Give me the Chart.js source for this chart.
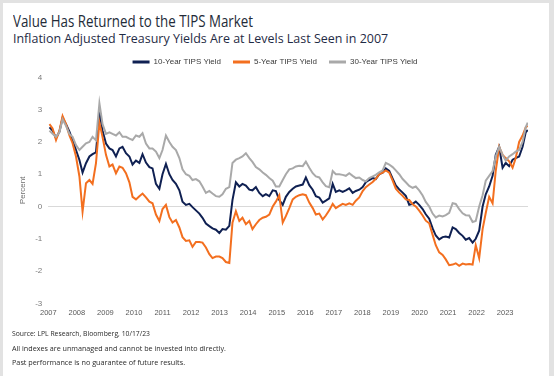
<!DOCTYPE html>
<html>
<head>
<meta charset="utf-8">
<script src="https://cdn.jsdelivr.net/npm/chart.js@4.4.0/dist/chart.umd.min.js"></script>
<style>
  html, body { margin: 0; padding: 0; }
  body { width: 554px; height: 376px; background: #e2e2e2; position: relative; overflow: hidden; font-family: "Open Sans", sans-serif; }
  .panel { position: absolute; left: 3px; top: 3px; width: 546px; height: 373px; background: #fff; }
  .txt { position: absolute; white-space: nowrap; transform-origin: 0 0; line-height: 1; }
  #title { left: 13px; top: 12.5px; font-size: 16px; color: #232b38; }
  #subtitle { left: 13px; top: 33px; font-size: 12.5px; color: #1f2b45; }
  .foot { left: 12px; font-size: 8px; color: #2a2a2a; }
  #foot1 { top: 328.5px; }
  #foot2 { top: 343.5px; }
  #foot3 { top: 357.5px; }
  #chartWrap { position: absolute; left: 0; top: 46px; width: 554px; height: 284px; }
</style>
</head>
<body>
<div class="panel"></div>
<div class="txt" id="title">Value Has Returned to the TIPS Market</div>
<div class="txt" id="subtitle">Inflation Adjusted Treasury Yields Are at Levels Last Seen in 2007</div>
<div id="chartWrap"><canvas id="tipsChart"></canvas></div>
<div class="txt foot" id="foot1">Source: LPL Research, Bloomberg, 10/17/23</div>
<div class="txt foot" id="foot2">All indexes are unmanaged and cannot be invested into directly.</div>
<div class="txt foot" id="foot3">Past performance is no guarantee of future results.</div>
<script>
// ── 数据（从图上读取，日期为小数年份）──
var dates = [
  2007.04, 2007.15, 2007.27, 2007.39, 2007.50, 2007.62, 2007.74, 2007.85, 2007.97, 2008.09,
  2008.20, 2008.32, 2008.44, 2008.55, 2008.67, 2008.79, 2008.90, 2009.02, 2009.14, 2009.25,
  2009.37, 2009.49, 2009.60, 2009.72, 2009.84, 2009.95, 2010.07, 2010.19, 2010.30, 2010.42,
  2010.54, 2010.65, 2010.77, 2010.89, 2011.00, 2011.12, 2011.24, 2011.35, 2011.47, 2011.59,
  2011.70, 2011.82, 2011.94, 2012.05, 2012.17, 2012.29, 2012.40, 2012.52, 2012.64, 2012.75,
  2012.87, 2012.99, 2013.10, 2013.22, 2013.34, 2013.45, 2013.57, 2013.69, 2013.80, 2013.92,
  2014.04, 2014.15, 2014.27, 2014.39, 2014.51, 2014.62, 2014.74, 2014.86, 2014.97, 2015.09,
  2015.21, 2015.32, 2015.44, 2015.56, 2015.67, 2015.79, 2015.91, 2016.02, 2016.14, 2016.26,
  2016.37, 2016.49, 2016.61, 2016.72, 2016.84, 2016.96, 2017.07, 2017.19, 2017.31, 2017.42,
  2017.54, 2017.66, 2017.77, 2017.89, 2018.01, 2018.12, 2018.24, 2018.36, 2018.47, 2018.59,
  2018.71, 2018.82, 2018.94, 2019.06, 2019.17, 2019.29, 2019.41, 2019.52, 2019.64, 2019.76,
  2019.87, 2019.99, 2020.11, 2020.22, 2020.34, 2020.46, 2020.57, 2020.69, 2020.81, 2020.92,
  2021.04, 2021.16, 2021.27, 2021.39, 2021.51, 2021.62, 2021.74, 2021.86, 2021.97, 2022.09,
  2022.21, 2022.32, 2022.44, 2022.56, 2022.67, 2022.79, 2022.91, 2023.02, 2023.14, 2023.26,
  2023.37, 2023.49, 2023.61, 2023.72, 2023.79
];

var yield10 = [
  2.45, 2.35, 2.12, 2.32, 2.75, 2.55, 2.32, 2.06, 1.75, 1.44,
  1.05, 1.34, 1.55, 1.62, 1.68, 2.90, 2.35, 1.95, 1.80, 1.75,
  1.55, 1.80, 1.85, 1.65, 1.55, 1.30, 1.42, 1.35, 1.62, 1.36,
  1.22, 1.18, 0.70, 0.55, 1.00, 1.32, 1.00, 0.82, 0.70, 0.50,
  0.15, 0.05, 0.08, -0.02, -0.12, -0.22, -0.35, -0.53, -0.61, -0.68,
  -0.72, -0.82, -0.70, -0.72, -0.60, 0.20, 0.75, 0.62, 0.70, 0.65,
  0.52, 0.50, 0.60, 0.42, 0.32, 0.38, 0.32, 0.50, 0.48, 0.20,
  0.05, 0.30, 0.45, 0.55, 0.62, 0.65, 0.68, 0.90, 0.66, 0.52,
  0.32, 0.28, 0.12, 0.18, 0.25, 0.70, 0.45, 0.50, 0.45, 0.50,
  0.56, 0.42, 0.48, 0.52, 0.60, 0.75, 0.82, 0.88, 0.85, 1.00,
  1.05, 1.18, 1.10, 0.86, 0.65, 0.53, 0.43, 0.33, 0.05, 0.08,
  0.15, 0.05, -0.08, -0.24, -0.38, -0.68, -0.90, -1.02, -0.95, -0.93,
  -0.96, -0.65, -0.70, -0.82, -0.91, -1.03, -0.98, -1.12, -1.00, -0.75,
  0.00, 0.38, 0.62, 0.95, 1.60, 1.85, 1.20, 1.35, 1.25, 1.45,
  1.50, 1.55, 1.85, 2.30, 2.37
];

var yield5 = [
  2.55, 2.42, 2.06, 2.35, 2.80, 2.55, 2.20, 1.96, 1.55, 0.93,
  -0.16, 0.72, 0.82, 0.70, 1.34, 2.60, 2.15, 1.60, 1.24, 1.30,
  1.03, 1.24, 1.20, 1.03, 0.75, 0.30, 0.22, 0.32, 0.40, 0.28,
  0.15, 0.10, -0.25, -0.45, -0.08, 0.05, -0.33, -0.50, -0.42, -0.65,
  -0.95, -1.07, -1.05, -1.25, -1.10, -1.10, -1.12, -1.27, -1.48, -1.60,
  -1.55, -1.55, -1.60, -1.72, -1.75, -0.50, -0.15, -0.45, -0.35, -0.55,
  -0.45, -0.70, -0.55, -0.42, -0.35, -0.32, -0.25, 0.00, 0.15, 0.35,
  -0.50, -0.30, -0.05, 0.22, 0.30, 0.35, 0.38, 0.35, 0.12, -0.05,
  -0.25, -0.22, -0.40, -0.28, -0.12, 0.08, -0.05, 0.02, 0.08, 0.05,
  0.10, 0.05, 0.18, 0.28, 0.48, 0.60, 0.68, 0.76, 0.86, 1.00,
  1.05, 1.12, 1.05, 0.80, 0.55, 0.43, 0.33, 0.22, 0.20, 0.07,
  0.00, -0.13, -0.28, -0.44, -0.52, -0.88, -1.20, -1.42, -1.50, -1.64,
  -1.82, -1.80, -1.76, -1.84, -1.77, -1.80, -1.78, -1.80, -1.20, -1.60,
  -0.70, -0.20, 0.30, 0.10, 1.10, 1.85, 1.60, 1.50, 1.40, 1.20,
  1.50, 2.00, 2.20, 2.45, 2.50
];

var yield30 = [
  2.35, 2.25, 2.16, 2.30, 2.70, 2.50, 2.25, 2.16, 1.90, 1.75,
  1.85, 1.96, 2.00, 2.16, 2.05, 3.20, 2.55, 2.25, 2.30, 2.25,
  2.20, 2.30, 2.16, 2.16, 2.10, 2.06, 2.20, 2.16, 2.27, 1.95,
  1.80, 1.80, 1.70, 1.50, 1.75, 2.20, 2.00, 1.85, 1.75, 1.50,
  1.15, 1.00, 0.95, 0.82, 0.85, 0.78, 0.62, 0.42, 0.48, 0.40,
  0.32, 0.30, 0.38, 0.55, 0.60, 1.35, 1.45, 1.50, 1.55, 1.65,
  1.50, 1.38, 1.22, 1.15, 1.05, 0.98, 0.88, 0.80, 0.62, 0.62,
  0.82, 1.00, 1.15, 1.18, 1.24, 1.26, 1.25, 1.39, 1.20, 1.03,
  0.93, 0.90, 0.75, 0.63, 0.60, 1.10, 1.00, 1.00, 0.98, 0.95,
  1.03, 0.95, 0.88, 0.90, 0.82, 0.78, 0.88, 0.93, 0.98, 1.06,
  1.12, 1.35, 1.30, 1.22, 1.12, 1.00, 0.85, 0.75, 0.64, 0.58,
  0.62, 0.50, 0.34, 0.14, 0.00, -0.22, -0.34, -0.28, -0.31, -0.27,
  -0.20, 0.10, 0.08, -0.08, -0.21, -0.27, -0.28, -0.48, -0.45, 0.00,
  0.35, 0.80, 0.95, 1.10, 1.55, 1.85, 1.60, 1.42, 1.55, 1.62,
  1.70, 1.75, 2.00, 2.45, 2.60
];

var yearTicks = [2007, 2008, 2009, 2010, 2011, 2012, 2013, 2014, 2015,
                 2016, 2017, 2018, 2019, 2020, 2021, 2022, 2023];

var NAVY = '#0f2052';
var ORANGE = '#f36f1f';
var GRAY = '#a9a9a9';

function toPoints(values) {
  return values.map(function(v, i) { return { x: dates[i], y: v }; });
}

// ── 固定图例高度，让绘图区落在原图位置 ──
var legendHeight = {
  id: 'legendHeight',
  beforeLayout: function(chart) {
    var lg = chart.legend;
    if (!lg || lg._fixed) return;
    var fit = lg.fit;
    lg.fit = function() { fit.call(this); this.height = 31.4; };
    lg._fixed = true;
  }
};

var ctx = document.getElementById('tipsChart').getContext('2d');
var tipsChart = new Chart(ctx, {
  type: 'line',
  data: {
    datasets: [
      { label: '10-Year TIPS Yield', data: toPoints(yield10), borderColor: NAVY, backgroundColor: NAVY, order: 3 },
      { label: '5-Year TIPS Yield', data: toPoints(yield5), borderColor: ORANGE, backgroundColor: ORANGE, order: 2 },
      { label: '30-Year TIPS Yield', data: toPoints(yield30), borderColor: GRAY, backgroundColor: GRAY, order: 1 }
    ]
  },
  options: {
    responsive: true, maintainAspectRatio: false,
    animation: false,
    events: [],
    layout: { padding: { left: 22, right: 26, top: 0, bottom: 0 } },
    elements: {
      line: { borderWidth: 2, tension: 0, fill: false },
      point: { radius: 0 }
    },
    plugins: {
      tooltip: { enabled: false },
      legend: {
        position: 'top',
        labels: {
          boxWidth: 17, boxHeight: 3, padding: 12,
          color: '#3a3a3a',
          font: { family: 'Liberation Sans', size: 8 },
          generateLabels: function(chart) {
            return chart.data.datasets.map(function(ds, i) {
              return { text: ds.label, fillStyle: ds.borderColor, strokeStyle: ds.borderColor,
                       lineWidth: 0, hidden: false, datasetIndex: i, fontColor: '#3a3a3a' };
            });
          }
        }
      }
    },
    scales: {
      x: {
        type: 'linear', min: 2007, max: 2023.8,
        afterBuildTicks: function(scale) {
          scale.ticks = yearTicks.map(function(v) { return { value: v }; });
        },
        afterFit: function(scale) { scale.height = 26.7; },
        ticks: {
          color: '#595959', padding: 5, maxRotation: 0, autoSkip: false,
          font: { family: 'Liberation Sans', size: 7.5 },
          callback: function(v) { return String(v); }
        },
        grid: { display: false, drawTicks: false },
        border: { display: false }
      },
      y: {
        min: -3, max: 4,
        afterFit: function(scale) { scale.width = 26.3; },
        ticks: {
          stepSize: 1, color: '#7a7a7a', padding: 6,
          font: { family: 'Liberation Sans', size: 8 }
        },
        grid: {
          drawTicks: false,
          color: function(c) { return c.tick && c.tick.value === 0 ? '#d9d9d9' : 'rgba(0,0,0,0)'; }
        },
        border: { display: false },
        title: {
          display: true, text: 'Percent', color: '#6e6e6e',
          font: { family: 'Liberation Sans', size: 8 },
          padding: { top: -3.8, bottom: 0 }
        }
      }
    }
  },
  plugins: [legendHeight]
});

// ── 文字横向压缩到原图宽度 ──
function fitWidth(id, w) {
  var el = document.getElementById(id);
  var natural = el.getBoundingClientRect().width;
  el.style.transform = 'scaleX(' + (w / natural).toFixed(3) + ')';
}
fitWidth('title', 240);
fitWidth('subtitle', 375);
fitWidth('foot1', 138);
fitWidth('foot2', 214);
fitWidth('foot3', 173);
</script>
</body>
</html>
